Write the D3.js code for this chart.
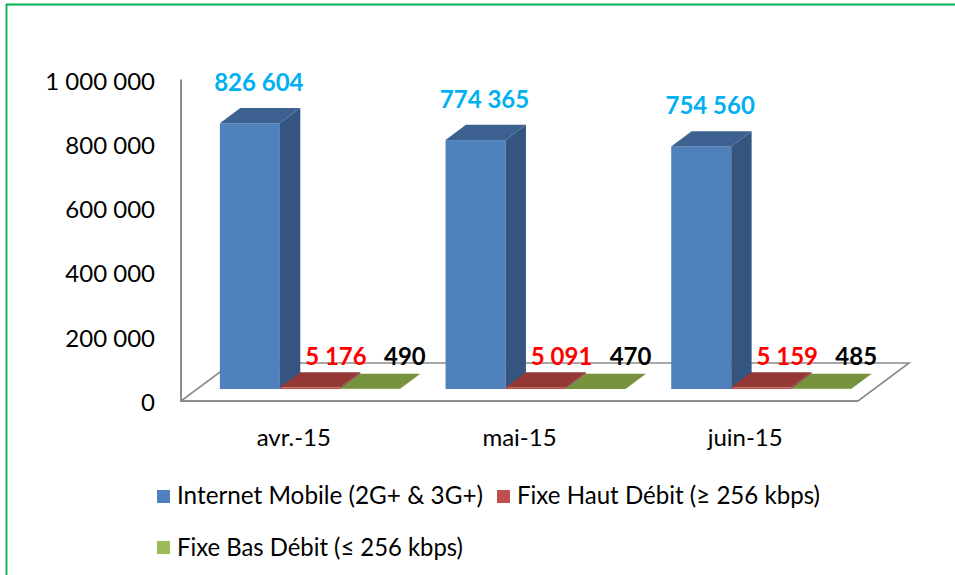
<!DOCTYPE html>
<html><head><meta charset="utf-8">
<script src="https://cdn.jsdelivr.net/npm/d3@7"></script>
<style>html,body{margin:0;padding:0;background:#fff;}svg{display:block;}</style>
</head><body>
<svg id="c" width="955" height="575"></svg>
<script>
const categories = ["avr.-15", "mai-15", "juin-15"];
const seriesNames = ["Internet Mobile (2G+ & 3G+)", "Fixe Haut Débit (≥ 256 kbps)", "Fixe Bas Débit (≤ 256 kbps)"];
const mobile = [826604, 774365, 754560];
const hautDebit = [5176, 5091, 5159];
const basDebit = [490, 470, 485];
const tickValues = [0, 200000, 400000, 600000, 800000, 1000000];
const tickLabels = ["0", "200 000", "400 000", "600 000", "800 000", "1 000 000"];

const seriesValues = [mobile, hautDebit, basDebit];
const fmt = v => d3.format(",")(v).replace(/,/g, " ");

const svg = d3.select("#c");
const FONT = "Lato, 'Open Sans', sans-serif";

// frame
svg.append("path").attr("d", "M6.5,575 L6.5,4.5 L955,4.5")
  .attr("fill", "none").attr("stroke", "#00B050").attr("stroke-width", 1.8);

// scales
const x0 = d3.scaleBand().domain(categories).range([181, 858]).paddingInner(0).paddingOuter(0);
const x1 = d3.scaleBand().domain(d3.range(3)).range([0, x0.bandwidth()]).paddingInner(0).paddingOuter(0.38);
const y = d3.scaleLinear().domain([0, 1000000]).range([401, 79.5]);

const DX = 51, DY = -38;          // full floor depth
const F0 = 0.315, FD = 0.40;      // bar front-plane fraction, bar depth fraction
const ox = DX * F0, oy = DY * F0; // bar plane offset
const bdx = DX * FD, bdy = DY * FD;

const floorY = y(0), frontL = x0.range()[0], frontR = x0.range()[1];
const axisCol = "#8C8C8C";
// floor (back lines)
svg.append("path")
  .attr("d", `M${frontL},${floorY} L${frontL + DX},${floorY + DY} L${frontR + DX},${floorY + DY} L${frontR},${floorY}`)
  .attr("fill", "none").attr("stroke", axisCol).attr("stroke-width", 1.6);
// floor front + vertical axis
svg.append("path")
  .attr("d", `M${frontL},${y(1000000)} L${frontL},${floorY} L${frontR},${floorY}`)
  .attr("fill", "none").attr("stroke", axisCol).attr("stroke-width", 2);

// y tick labels
svg.append("g").selectAll("text").data(tickValues).join("text")
  .attr("x", 155).attr("y", d => y(d) + 10)
  .attr("text-anchor", "end").attr("font-family", FONT).attr("font-size", 24)
  .attr("fill", "#000").text((d, i) => tickLabels[i]);

// category labels
svg.append("g").selectAll("text").data(categories).join("text")
  .attr("x", d => x0(d) + x0.bandwidth() / 2).attr("y", 446)
  .attr("text-anchor", "middle").attr("font-family", FONT).attr("font-size", 24)
  .attr("fill", "#000").text(d => d);

// bars
const frontCol = ["#4F81BD", "#C0504D", "#9BBB59"];
const sideCol = ["#34557F", "#7E3634", "#66803A"];
const topCol = ["#3D6291", "#943836", "#76923C"];

const barsG = svg.append("g");
categories.forEach((cat, ci) => {
  seriesValues.forEach((vals, si) => {
    const v = vals[ci];
    const xl = x0(cat) + ox + x1(si);
    const xr = xl + x1.bandwidth();
    const yb = y(0) + oy;
    const yt = y(v) + oy;
    const g = barsG.append("g");
    g.append("rect").attr("x", xl).attr("y", yt).attr("width", xr - xl).attr("height", Math.max(0, yb - yt))
      .attr("fill", frontCol[si]);
    g.append("path").attr("d", `M${xr},${yt} L${xr + bdx},${yt + bdy} L${xr + bdx},${yb + bdy} L${xr},${yb} Z`)
      .attr("fill", sideCol[si]);
    g.append("path").attr("d", `M${xl},${yt} L${xl + bdx},${yt + bdy} L${xr + bdx},${yt + bdy} L${xr},${yt} Z`)
      .attr("fill", topCol[si]);
  });
});

// value labels
const labelCol = ["#00B0F0", "#FF0000", "#000000"];
const labG = svg.append("g").attr("font-family", FONT).attr("font-weight", "bold").attr("font-size", 24)
  .attr("text-anchor", "middle");
categories.forEach((cat, ci) => {
  seriesValues.forEach((vals, si) => {
    const v = vals[ci];
    const cx = x0(cat) + ox + x1(si) + x1.bandwidth() / 2;
    let lx, ly;
    if (si === 0) { lx = cx + 9; ly = y(v) + oy - 32; }
    else if (si === 1) { lx = cx + 26; ly = y(0) + oy - 24.5; }
    else { lx = cx + 35; ly = y(0) + oy - 24; }
    labG.append("text").attr("x", lx).attr("y", ly).attr("fill", labelCol[si]).text(fmt(v));
  });
});

// legend
const legendItems = [
  {i: 0, sx: 157, sy: 490, tx: 177, ty: 504, w: 306},
  {i: 1, sx: 497, sy: 490, tx: 517, ty: 504, w: 303},
  {i: 2, sx: 157, sy: 541, tx: 177, ty: 556, w: 286}
];
const legG = svg.append("g");
legendItems.forEach(it => {
  legG.append("rect").attr("x", it.sx).attr("y", it.sy).attr("width", 13).attr("height", 13).attr("fill", frontCol[it.i]);
  legG.append("text").attr("x", it.tx).attr("y", it.ty).attr("font-family", FONT).attr("font-size", 25)
    .attr("textLength", it.w).attr("lengthAdjust", "spacingAndGlyphs")
    .attr("fill", "#000").text(seriesNames[it.i]);
});
</script>
</body></html>
